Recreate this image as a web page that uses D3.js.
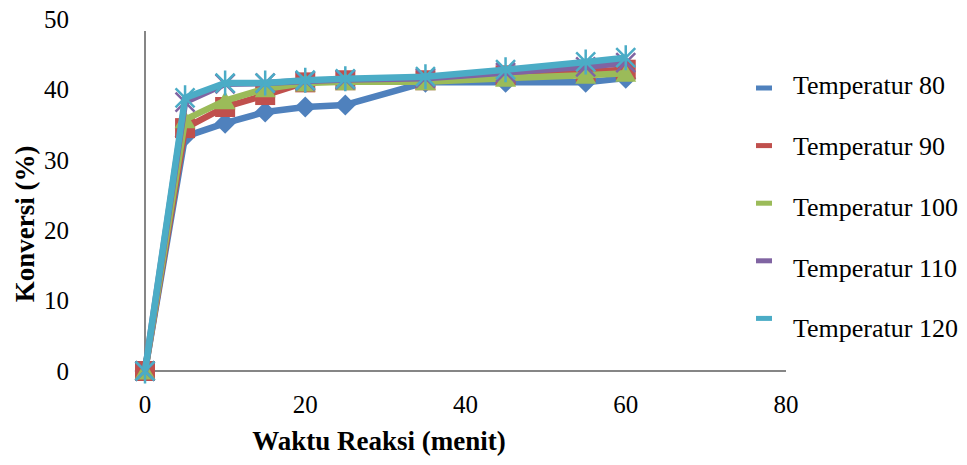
<!DOCTYPE html>
<html>
<head>
<meta charset="utf-8">
<script src="https://cdn.jsdelivr.net/npm/d3@7"></script>
<style>
  html, body { margin: 0; padding: 0; background: #fff; }
</style>
</head>
<body>
<svg id="chart" width="967" height="465" font-family="'Liberation Serif', 'Times New Roman', serif"></svg>
<script>
const time = [0, 5, 10, 15, 20, 25, 35, 45, 55, 60];
const t80  = [0, 33.3, 35.2, 36.8, 37.5, 37.8, 41.0, 41.0, 41.0, 41.6];
const t90  = [0, 34.5, 37.5, 39.2, 41.0, 41.3, 41.3, 42.0, 42.5, 42.8];
const t100 = [0, 35.7, 38.4, 40.1, 40.9, 41.1, 41.1, 41.6, 42.0, 42.3];
const t110 = [0, 38.2, 40.8, 40.9, 41.2, 41.4, 41.6, 42.4, 43.2, 43.8];
const t120 = [0, 38.8, 40.9, 40.9, 41.3, 41.5, 41.8, 42.8, 43.9, 44.5];
const seriesNames = ["Temperatur 80", "Temperatur 90", "Temperatur 100", "Temperatur 110", "Temperatur 120"];
const xTicks = [0, 20, 40, 60, 80];
const yTicks = [0, 10, 20, 30, 40, 50];

const colors = ["#4F81BD", "#C0504D", "#9BBB59", "#8064A2", "#4BACC6"];
const markers = ["diamond", "square", "triangle", "x", "star"];
const seriesValues = [t80, t90, t100, t110, t120];

const svg = d3.select("#chart");
const x = d3.scaleLinear().domain([0, 80]).range([145, 786]);
const y = d3.scaleLinear().domain([0, 50]).range([371, 19]);

// axes lines
svg.append("line").attr("x1", x(0)).attr("x2", x(0)).attr("y1", 31).attr("y2", y(0))
  .attr("stroke", "#868686").attr("stroke-width", 2);
svg.append("line").attr("x1", x(0)).attr("x2", x(80)).attr("y1", y(0)).attr("y2", y(0))
  .attr("stroke", "#868686").attr("stroke-width", 2);

// y tick labels
svg.selectAll(".ylab").data(yTicks).enter().append("text")
  .attr("x", 69).attr("y", d => y(d)).attr("dy", "0.35em")
  .attr("text-anchor", "end").attr("font-size", 25).text(d => d);

// x tick labels
svg.selectAll(".xlab").data(xTicks).enter().append("text")
  .attr("x", d => x(d)).attr("y", 404).attr("dy", "0.35em")
  .attr("text-anchor", "middle").attr("font-size", 25).text(d => d);

// axis titles
svg.append("text").attr("x", 379).attr("y", 450).attr("text-anchor", "middle")
  .attr("font-size", 27).attr("font-weight", "bold").text("Waktu Reaksi (menit)");
svg.append("text").attr("transform", "translate(34,224) rotate(-90)")
  .attr("text-anchor", "middle").attr("font-size", 27).attr("font-weight", "bold")
  .text("Konversi (%)");

function drawMarker(g, type, color) {
  if (type === "diamond") {
    g.append("path").attr("d", "M0,-10.5L10.5,0L0,10.5L-10.5,0Z").attr("fill", color);
  } else if (type === "square") {
    g.append("rect").attr("x", -10).attr("y", -10).attr("width", 20).attr("height", 20).attr("fill", color);
  } else if (type === "triangle") {
    g.append("path").attr("d", "M0,-9.5L10.5,8.5L-10.5,8.5Z").attr("fill", color);
  } else if (type === "x") {
    g.append("path").attr("d", "M-9.5,-9.5L9.5,9.5M-9.5,9.5L9.5,-9.5").attr("stroke", color).attr("stroke-width", 2.5);
  } else if (type === "star") {
    g.append("path").attr("d", "M-9.5,-9.5L9.5,9.5M-9.5,9.5L9.5,-9.5M0,-12.5L0,12.5").attr("stroke", color).attr("stroke-width", 2.5);
  }
}

const line = d3.line().x(d => x(d[0])).y(d => y(d[1]));

seriesValues.forEach((vals, i) => {
  const pts = time.map((t, j) => [t, vals[j]]);
  const g = svg.append("g");
  g.append("path").datum(pts).attr("d", line)
    .attr("fill", "none").attr("stroke", colors[i]).attr("stroke-width", 6.5)
    .attr("stroke-linejoin", "round");
  pts.forEach(p => {
    const mg = g.append("g").attr("transform", `translate(${x(p[0])},${y(p[1])})`);
    drawMarker(mg, markers[i], colors[i]);
  });
});

// legend
seriesNames.forEach((name, i) => {
  const sy = 88 + i * 57.6;
  const ty = 85 + i * 60.8;
  svg.append("rect").attr("x", 756).attr("y", sy - 2.5).attr("width", 16).attr("height", 5).attr("fill", colors[i]);
  svg.append("text").attr("x", 793).attr("y", ty).attr("dy", "0.35em")
    .attr("font-size", 26).text(name);
});
</script>
</body>
</html>
